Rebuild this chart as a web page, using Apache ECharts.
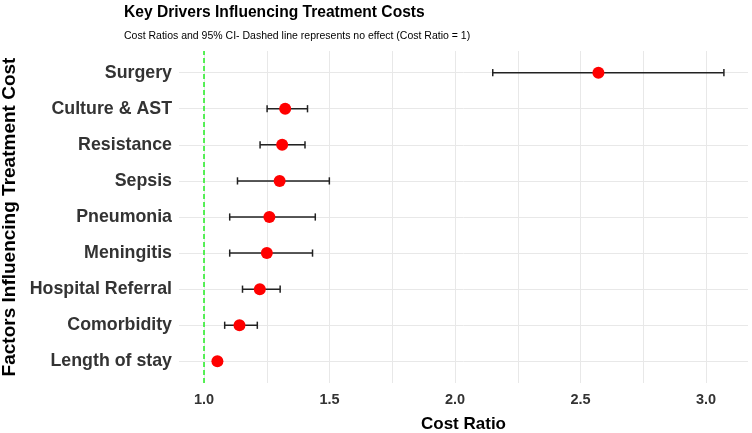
<!DOCTYPE html>
<html>
<head>
<meta charset="utf-8">
<script src="https://cdn.jsdelivr.net/npm/echarts@6/dist/echarts.min.js"></script>
<style>
  html, body { margin: 0; padding: 0; background: #fff; }
  #chart { width: 752px; height: 433px; }
</style>
</head>
<body>
<div id="chart"></div>
<script>
// bottom to top, like the y axis
const categories = ["Length of stay", "Comorbidity", "Hospital Referral", "Meningitis", "Pneumonia", "Sepsis", "Resistance", "Culture & AST", "Surgery"];
const costRatio = [1.053, 1.141, 1.222, 1.250, 1.260, 1.301, 1.311, 1.323, 2.571];
const lowerCI = [1.047, 1.082, 1.153, 1.102, 1.102, 1.133, 1.223, 1.251, 2.150];
const upperCI = [1.060, 1.212, 1.303, 1.432, 1.443, 1.499, 1.402, 1.412, 3.071];
const xTickLabels = [1.0, 1.5, 2.0, 2.5, 3.0];
const xGridLines = [1.0, 1.25, 1.5, 1.75, 2.0, 2.25, 2.5, 2.75, 3.0];
const yPositions = categories.map((_, i) => i);

const font = "'Liberation Sans', Arial, sans-serif";

const chart = echarts.init(document.getElementById("chart"));

chart.setOption({
  animation: false,
  backgroundColor: "#fff",
  title: [
    {
      text: "Key Drivers Influencing Treatment Costs",
      left: 124,
      top: 5,
      padding: 0,
      textStyle: { fontFamily: font, fontSize: 15.6, fontWeight: "bold", color: "#000" },
    },
    {
      text: "Cost Ratios and 95% CI- Dashed line represents no effect (Cost Ratio = 1)",
      left: 124,
      top: 31,
      padding: 0,
      textStyle: { fontFamily: font, fontSize: 10.5, fontWeight: "normal", color: "#000" },
    },
  ],
  grid: { left: 179, right: 4, top: 51, bottom: 50, outerBoundsMode: "none" },
  xAxis: {
    type: "value",
    min: 0.9,
    max: 3.167,
    name: "Cost Ratio",
    nameLocation: "middle",
    nameGap: 33,
    nameTextStyle: { fontFamily: font, fontSize: 17, fontWeight: "bold", color: "#000" },
    axisLine: { show: false },
    axisTick: { show: false, customValues: xGridLines },
    axisLabel: {
      customValues: xTickLabels,
      formatter: (v) => v.toFixed(1),
      fontFamily: font,
      fontSize: 14.5,
      fontWeight: "bold",
      color: "#333",
      margin: 9,
    },
    splitLine: { show: true, lineStyle: { color: "#e8e8e8", width: 1 } },
  },
  yAxis: {
    type: "value",
    min: -0.6,
    max: 8.6,
    name: "Factors Influencing Treatment Cost",
    nameLocation: "middle",
    nameGap: 160,
    nameTextStyle: { fontFamily: font, fontSize: 19, fontWeight: "bold", color: "#000" },
    axisLine: { show: false },
    axisTick: { show: false, customValues: yPositions },
    axisLabel: {
      customValues: yPositions,
      formatter: (v) => categories[Math.round(v)],
      fontFamily: font,
      fontSize: 17.8,
      fontWeight: "bold",
      color: "#333",
      margin: 7,
    },
    splitLine: { show: true, lineStyle: { color: "#e8e8e8", width: 1 } },
  },
  series: [
    {
      type: "custom",
      z: 2,
      silent: true,
      data: categories.map((c, i) => [i, lowerCI[i], upperCI[i]]),
      encode: { x: [1, 2], y: 0 },
      renderItem: (params, api) => {
        const y = api.value(0);
        const lo = api.coord([api.value(1), y]);
        const hi = api.coord([api.value(2), y]);
        const half = api.size([0, 0.1])[1];
        const style = { stroke: "#222", lineWidth: 1.5 };
        return {
          type: "group",
          children: [
            { type: "line", shape: { x1: lo[0], y1: lo[1], x2: hi[0], y2: hi[1] }, style },
            { type: "line", shape: { x1: lo[0], y1: lo[1] - half, x2: lo[0], y2: lo[1] + half }, style },
            { type: "line", shape: { x1: hi[0], y1: hi[1] - half, x2: hi[0], y2: hi[1] + half }, style },
          ],
        };
      },
    },
    {
      type: "scatter",
      z: 3,
      symbolSize: 12,
      itemStyle: { color: "#ff0000", opacity: 1 },
      data: categories.map((c, i) => [costRatio[i], i]),
      markLine: {
        silent: true,
        symbol: "none",
        label: { show: false },
        lineStyle: { color: "#22ee22", type: [5, 3], width: 1.5 },
        data: [{ xAxis: 1 }],
      },
    },
  ],
});
</script>
</body>
</html>
